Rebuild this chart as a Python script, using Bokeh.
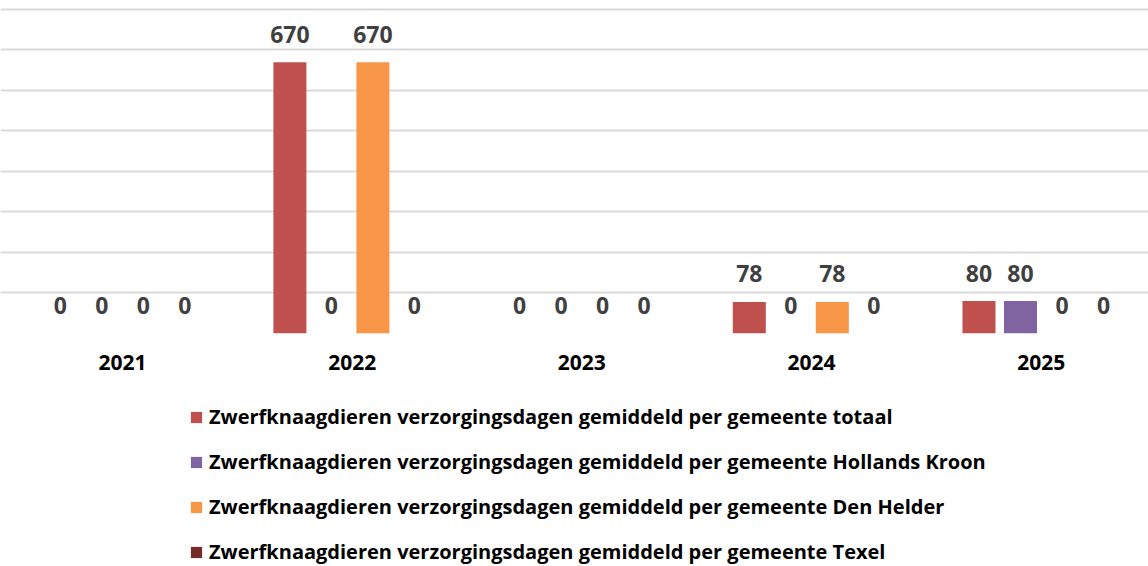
from bokeh.plotting import figure
from bokeh.layouts import column
from bokeh.models import Range1d, Legend, LegendItem, ColumnDataSource, FixedTicker
from bokeh.transform import dodge
from bokeh.core.properties import value
from bokeh.embed import file_html
from bokeh.resources import INLINE

years = ["2021", "2022", "2023", "2024", "2025"]
totaal = [0, 670, 0, 78, 80]
hollands_kroon = [0, 0, 0, 0, 80]
den_helder = [0, 670, 0, 78, 0]
texel = [0, 0, 0, 0, 0]

series_names = [
    "Zwerfknaagdieren verzorgingsdagen gemiddeld per gemeente totaal",
    "Zwerfknaagdieren verzorgingsdagen gemiddeld per gemeente Hollands Kroon",
    "Zwerfknaagdieren verzorgingsdagen gemiddeld per gemeente Den Helder",
    "Zwerfknaagdieren verzorgingsdagen gemiddeld per gemeente Texel",
]
series_values = [totaal, hollands_kroon, den_helder, texel]
colors = ["#C0504D", "#8064A2", "#F79646", "#772C2A"]

FONT = "Open Sans"

p = figure(
    width=1148, height=390,
    output_backend="svg", toolbar_location=None,
    x_range=Range1d(-0.531, 4.467), y_range=Range1d(0, 822.2),
    y_axis_location=None,
    min_border_left=0, min_border_right=0, min_border_top=0, min_border_bottom=57,
)
p.outline_line_color = None
p.background_fill_color = "white"
p.border_fill_color = "white"

p.xgrid.visible = False
p.ygrid.ticker = FixedTicker(ticks=[0, 100, 200, 300, 400, 500, 600, 700, 800])
p.ygrid.grid_line_color = "#D9D9D9"
p.ygrid.grid_line_width = 2

xs = list(range(len(years)))
slot = 0.1807
bar_w = 0.1437
offsets = [-1.5 * slot, -0.5 * slot, 0.5 * slot, 1.5 * slot]

sources = []
for vals, col, off in zip(series_values, colors, offsets):
    src = ColumnDataSource(dict(x=xs, top=vals, label=[str(v) for v in vals]))
    sources.append(src)
    p.vbar(x=dodge("x", off), top="top", width=bar_w, source=src,
           fill_color=col, line_color=None)
    p.text(x=dodge("x", off), y="top", text="label", source=src,
           text_align="center", text_baseline="alphabetic", y_offset=-28,
           text_font=value(FONT), text_font_style="bold",
           text_font_size="23px", text_color="#404040")

ax = p.xaxis[0]
ax.ticker = FixedTicker(ticks=xs)
ax.major_label_overrides = {i: y for i, y in enumerate(years)}
ax.axis_line_color = None
ax.major_tick_line_color = None
ax.minor_tick_line_color = None
ax.major_label_standoff = 15
ax.major_label_text_font = FONT
ax.major_label_text_font_style = "bold"
ax.major_label_text_font_size = "21px"
ax.major_label_text_color = "black"

# legend panel: same series, with ranges that keep the bars out of view so only the legend shows
lp = figure(
    width=1148, height=176, output_backend="svg", toolbar_location=None,
    x_range=Range1d(100, 101), y_range=Range1d(5000, 5001),
    x_axis_location=None, y_axis_location=None,
    min_border_left=0, min_border_right=0, min_border_top=0, min_border_bottom=0,
)
lp.outline_line_color = None
lp.grid.visible = False
items = []
for name, col, src in zip(series_names, colors, sources):
    r = lp.vbar(x="x", top="top", width=bar_w, source=src,
                fill_color=col, line_color=None)
    items.append(LegendItem(label=name, renderers=[r]))

legend = Legend(items=items, location=(189, 1), orientation="vertical")
legend.label_text_font = FONT
legend.label_text_font_style = "bold"
legend.label_text_font_size = "20px"
legend.label_text_color = "black"
legend.glyph_width = 14
legend.glyph_height = 14
legend.label_standoff = 6
legend.spacing = 18
legend.padding = 0
legend.margin = 0
legend.border_line_color = None
legend.background_fill_alpha = 0
lp.add_layout(legend, "center")

layout = column(p, lp, spacing=0)
open("out.html", "w").write(file_html(layout, INLINE))
